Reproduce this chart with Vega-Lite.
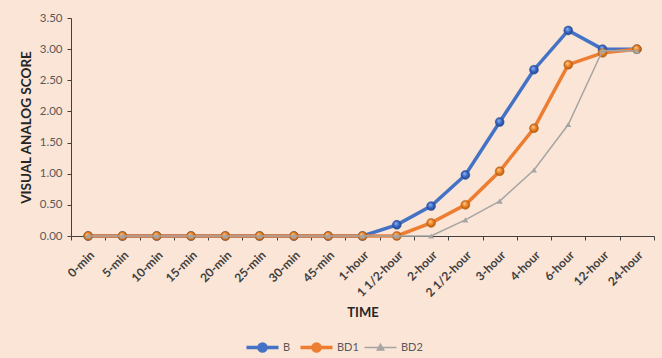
{
  "$schema": "https://vega.github.io/schema/vega-lite/v6.json",
  "autosize": {"type": "none"},
  "width": 583,
  "height": 218,
  "padding": {"left": 71, "top": 18, "right": 8, "bottom": 122},
  "background": "#FBE5D6",
  "config": {
    "view": {"stroke": null},
    "font": "Lato",
    "axis": {"grid": false, "domainColor": "#404040", "tickColor": "#404040", "labelColor": "#404040", "titleColor": "#262626", "labelFont": "Lato", "titleFont": "Lato"}
  },
  "data": {"values": [
    {"time": "0-min", "series": "B", "value": 0}, {"time": "5-min", "series": "B", "value": 0}, {"time": "10-min", "series": "B", "value": 0}, {"time": "15-min", "series": "B", "value": 0}, {"time": "20-min", "series": "B", "value": 0}, {"time": "25-min", "series": "B", "value": 0}, {"time": "30-min", "series": "B", "value": 0}, {"time": "45-min", "series": "B", "value": 0}, {"time": "1-hour", "series": "B", "value": 0}, {"time": "1 1/2-hour", "series": "B", "value": 0.18}, {"time": "2-hour", "series": "B", "value": 0.48}, {"time": "2 1/2-hour", "series": "B", "value": 0.98}, {"time": "3-hour", "series": "B", "value": 1.83}, {"time": "4-hour", "series": "B", "value": 2.67}, {"time": "6-hour", "series": "B", "value": 3.3}, {"time": "12-hour", "series": "B", "value": 3.0}, {"time": "24-hour", "series": "B", "value": 3.0},
    {"time": "0-min", "series": "BD1", "value": 0}, {"time": "5-min", "series": "BD1", "value": 0}, {"time": "10-min", "series": "BD1", "value": 0}, {"time": "15-min", "series": "BD1", "value": 0}, {"time": "20-min", "series": "BD1", "value": 0}, {"time": "25-min", "series": "BD1", "value": 0}, {"time": "30-min", "series": "BD1", "value": 0}, {"time": "45-min", "series": "BD1", "value": 0}, {"time": "1-hour", "series": "BD1", "value": 0}, {"time": "1 1/2-hour", "series": "BD1", "value": 0}, {"time": "2-hour", "series": "BD1", "value": 0.21}, {"time": "2 1/2-hour", "series": "BD1", "value": 0.5}, {"time": "3-hour", "series": "BD1", "value": 1.04}, {"time": "4-hour", "series": "BD1", "value": 1.73}, {"time": "6-hour", "series": "BD1", "value": 2.75}, {"time": "12-hour", "series": "BD1", "value": 2.94}, {"time": "24-hour", "series": "BD1", "value": 3.0},
    {"time": "0-min", "series": "BD2", "value": 0}, {"time": "5-min", "series": "BD2", "value": 0}, {"time": "10-min", "series": "BD2", "value": 0}, {"time": "15-min", "series": "BD2", "value": 0}, {"time": "20-min", "series": "BD2", "value": 0}, {"time": "25-min", "series": "BD2", "value": 0}, {"time": "30-min", "series": "BD2", "value": 0}, {"time": "45-min", "series": "BD2", "value": 0}, {"time": "1-hour", "series": "BD2", "value": 0}, {"time": "1 1/2-hour", "series": "BD2", "value": 0}, {"time": "2-hour", "series": "BD2", "value": 0}, {"time": "2 1/2-hour", "series": "BD2", "value": 0.26}, {"time": "3-hour", "series": "BD2", "value": 0.56}, {"time": "4-hour", "series": "BD2", "value": 1.06}, {"time": "6-hour", "series": "BD2", "value": 1.79}, {"time": "12-hour", "series": "BD2", "value": 2.98}, {"time": "24-hour", "series": "BD2", "value": 2.97}
  ]},
  "encoding": {
    "x": {
      "field": "time", "type": "ordinal", "sort": null,
      "scale": {"type": "band", "paddingInner": 0, "paddingOuter": 0},
      "axis": {"title": "TIME", "labelAngle": -45, "labelFontWeight": "bold", "labelFontSize": 12, "tickBand": "extent", "tickSize": 4, "labelPadding": 9, "titleFontSize": 13, "titleFontWeight": "bold", "titlePadding": 8}
    },
    "y": {
      "field": "value", "type": "quantitative",
      "scale": {"domain": [0, 3.5]},
      "axis": {"title": "VISUAL ANALOG SCORE", "values": [0, 0.5, 1, 1.5, 2, 2.5, 3, 3.5], "format": ".2f", "labelFontSize": 11.5, "labelColor": "#595959", "tickSize": 4, "labelPadding": 5, "titleFontSize": 13.5, "titleFontWeight": "bold", "titlePadding": 6}
    }
  },
  "layer": [
    {
      "transform": [{"filter": "datum.series === 'B'"}],
      "mark": {"type": "line", "color": "#4472C4", "strokeWidth": 3.5}
    },
    {
      "transform": [{"filter": "datum.series === 'B'"}],
      "mark": {"type": "point", "filled": true, "shape": "circle", "size": 80, "opacity": 1,
        "color": {"gradient": "radial", "x1": 0.38, "y1": 0.32, "r1": 0, "x2": 0.5, "y2": 0.5, "r2": 0.55, "stops": [{"offset": 0, "color": "#9dbcf2"}, {"offset": 0.5, "color": "#3a6bcc"}, {"offset": 1, "color": "#213f80"}]},
        "stroke": "#2f569e", "strokeWidth": 0.5}
    },
    {
      "transform": [{"filter": "datum.series === 'BD1'"}],
      "mark": {"type": "line", "color": "#ED7D31", "strokeWidth": 3.5}
    },
    {
      "transform": [{"filter": "datum.series === 'BD1'"}],
      "mark": {"type": "point", "filled": true, "shape": "circle", "size": 80, "opacity": 1,
        "color": {"gradient": "radial", "x1": 0.38, "y1": 0.32, "r1": 0, "x2": 0.5, "y2": 0.5, "r2": 0.55, "stops": [{"offset": 0, "color": "#ffd59e"}, {"offset": 0.5, "color": "#ef8424"}, {"offset": 1, "color": "#a85410"}]},
        "stroke": "#b5601a", "strokeWidth": 0.5}
    },
    {
      "transform": [{"filter": "datum.series === 'BD2'"}],
      "mark": {"type": "line", "color": "#A5A5A5", "strokeWidth": 1.5}
    },
    {
      "transform": [{"filter": "datum.series === 'BD2'"}],
      "mark": {"type": "point", "filled": true, "shape": "triangle-up", "size": 36, "opacity": 1, "color": "#A5A5A5"}
    },
    {
      "mark": {"type": "point", "filled": true, "opacity": 0},
      "encoding": {
        "color": {"field": "series", "type": "nominal",
          "scale": {"domain": ["B", "BD1", "BD2"], "range": ["#4472C4", "#ED7D31", "#A5A5A5"]},
          "legend": {"title": null, "orient": "none", "direction": "horizontal", "legendX": 186, "legendY": 324, "padding": 0, "gridAlign": "none",
            "symbolSize": 1024, "labelOffset": 15, "columnPadding": 2, "labelFontSize": 11, "labelColor": "#595959", "labelFont": "Lato",
            "encode": {"symbols": {"update": {
              "fill": {"scale": "color", "field": "value"},
              "stroke": {"scale": "color", "field": "value"},
              "strokeWidth": {"signal": "datum.value === 'BD2' ? 1.5 : 3.5"},
              "opacity": {"value": 1}
            }}}
          }
        },
        "shape": {"field": "series", "type": "nominal",
          "scale": {"domain": ["B", "BD1", "BD2"], "range": [
            "M-1,0L1,0M0.22,0A0.22,0.22,0,1,1,-0.22,0A0.22,0.22,0,1,1,0.22,0Z",
            "M-1,0L1,0M0.22,0A0.22,0.22,0,1,1,-0.22,0A0.22,0.22,0,1,1,0.22,0Z",
            "M-1,0L1,0M0,-0.2L0.2,0.15L-0.2,0.15Z"
          ]}
        }
      }
    }
  ]
}
